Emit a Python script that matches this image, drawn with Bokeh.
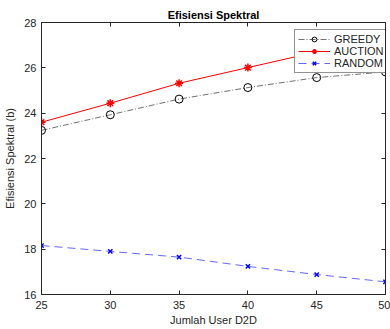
from bokeh.plotting import figure
from bokeh.models import LinearAxis, Range1d, FixedTicker, Legend, LegendItem
from bokeh.embed import file_html
from bokeh.resources import INLINE

users = [25, 30, 35, 40, 45, 50]
greedy = [23.24, 23.93, 24.62, 25.13, 25.57, 25.82]
auction = [23.60, 24.44, 25.32, 26.01, 26.70, 27.40]
random_ = [18.16, 17.90, 17.65, 17.24, 16.88, 16.56]
x_ticks = [25, 30, 35, 40, 45, 50]
y_ticks = [16, 18, 20, 22, 24, 26, 28]

FONT = "Liberation Sans"
AX = "#262626"

p = figure(width=390, height=329, output_backend="svg", toolbar_location=None,
           x_range=Range1d(25, 50), y_range=Range1d(16, 28),
           title="Efisiensi Spektral",
           min_border_left=41, min_border_right=5, min_border_top=22, min_border_bottom=35)
p.title.align = "center"
p.title.text_font = FONT
p.title.text_font_size = "11px"
p.title.text_font_style = "bold"
p.title.text_color = "#000000"
p.title.offset = 0
p.title.standoff = 3
p.outline_line_color = None
p.xgrid.visible = False
p.ygrid.visible = False

for ax in [p.xaxis[0], p.yaxis[0]]:
    ax.major_tick_in = 4
    ax.major_tick_out = 0
    ax.minor_tick_line_color = None
    ax.axis_line_color = AX
    ax.major_tick_line_color = AX
    ax.major_label_text_color = AX
    ax.major_label_text_font = FONT
    ax.major_label_text_font_size = "11px"
    ax.axis_label_text_font = FONT
    ax.axis_label_text_font_size = "11px"
    ax.axis_label_text_font_style = "normal"
    ax.axis_label_text_color = AX
p.xaxis[0].ticker = FixedTicker(ticks=x_ticks)
p.yaxis[0].ticker = FixedTicker(ticks=y_ticks)
p.xaxis[0].axis_label = "Jumlah User D2D"
p.yaxis[0].axis_label = "Efisiensi Spektral (b)"
p.xaxis[0].major_label_standoff = 6
p.yaxis[0].major_label_standoff = 5
p.xaxis[0].axis_label_standoff = 2
p.yaxis[0].axis_label_standoff = 5

top = LinearAxis(ticker=FixedTicker(ticks=x_ticks),
                 major_label_overrides={t: "" for t in x_ticks})
right = LinearAxis(ticker=FixedTicker(ticks=y_ticks),
                   major_label_overrides={t: "" for t in y_ticks})
for ax in [top, right]:
    ax.major_tick_in = 4
    ax.major_tick_out = 0
    ax.minor_tick_line_color = None
    ax.axis_line_color = AX
    ax.major_tick_line_color = AX
    ax.major_label_standoff = 0
p.add_layout(top, "above")
p.add_layout(right, "right")

g_line = p.line(users, greedy, line_color="#4d4d4d", line_width=0.8, line_dash="6 2 1 2")
g_mk = p.scatter(users, greedy, marker="circle", size=8, fill_color=None, line_color="#000000", line_width=1)
a_line = p.line(users, auction, line_color="#ff0000", line_width=1)
a_mk = p.scatter(users, auction, marker="asterisk", size=8, line_color="#ff0000", line_width=1.5)
r_line = p.line(users, random_, line_color="#6666ff", line_width=1, line_dash="8 5")
r_mk = p.scatter(users, random_, marker="x", size=6, line_color="#0000ff", line_width=1.5)

legend = Legend(items=[
    LegendItem(label="GREEDY", renderers=[g_line, g_mk]),
    LegendItem(label="AUCTION", renderers=[a_line, a_mk]),
    LegendItem(label="RANDOM", renderers=[r_line, r_mk]),
], location=(253, 221))
legend.label_text_font = FONT
legend.label_text_font_size = "11px"
legend.label_text_color = AX
legend.glyph_width = 32
legend.glyph_height = 12
legend.label_height = 12
legend.spacing = 0
legend.padding = 3
legend.margin = 0
legend.label_standoff = 4
legend.border_line_color = AX
legend.border_line_width = 1
legend.background_fill_alpha = 1
p.add_layout(legend, "center")

open("out.html", "w").write(file_html(p, INLINE))
